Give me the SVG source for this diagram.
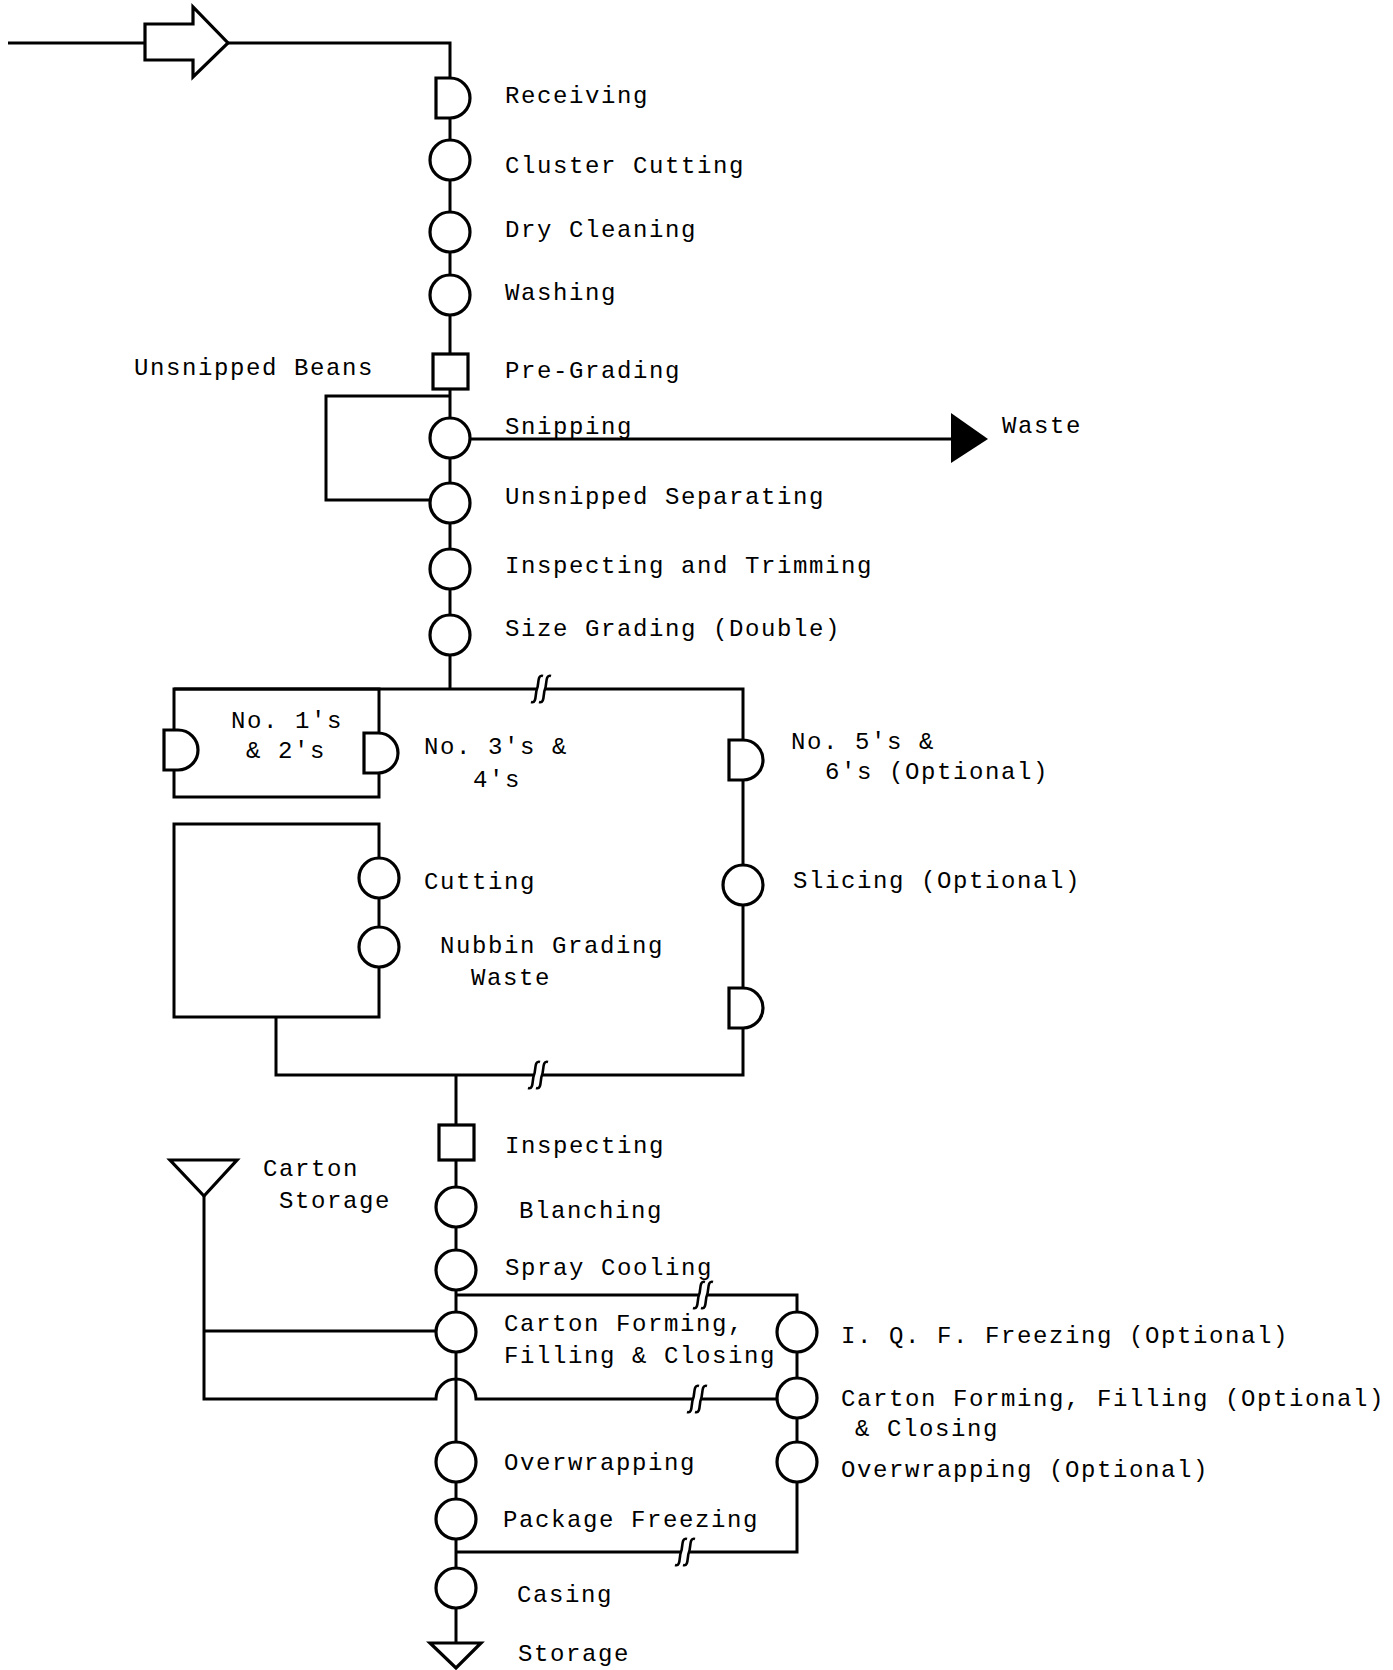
<svg xmlns="http://www.w3.org/2000/svg" width="1393" height="1670" viewBox="0 0 1393 1670">
<style>
.ln{fill:none;stroke:#000;stroke-width:3;stroke-linejoin:miter}
.nd{fill:#fff;stroke:#000;stroke-width:3.2}
.brk{fill:none;stroke:#000;stroke-width:2.6}
.t{font-family:"Liberation Mono","DejaVu Sans Mono",monospace;font-size:24px;letter-spacing:1.6px;fill:#000}
</style>
<defs>
<circle id="op" r="20" class="nd"/>
<path id="dl" d="M0,-20 H-14 V20 H0 A20,20 0 0 0 0,-20 Z" class="nd"/>
<path id="bk" d="M6,-13 C0,-15 2,-4 0,0 C-2,4 0,15 -6,13" class="brk"/>
</defs>
<rect width="1393" height="1670" fill="#fff"/>

<g id="connectors">
<path class="ln" d="M8,43 H145"/>
<path class="ln" d="M228,43 H450 V689"/>
<path class="ln" d="M450,396 H326 V500 H431"/>
<path class="ln" d="M470,439 H952"/>
<polygon points="951,413 988,439 951,463" fill="#000"/>
<path class="ln" d="M174,689 H537 M545,689 H743 V1075 H542 M534,1075 H276 V1017"/>
<use href="#bk" x="537" y="689"/><use href="#bk" x="545" y="689"/>
<use href="#bk" x="534" y="1075"/><use href="#bk" x="542" y="1075"/>
<rect class="ln" x="174" y="689" width="205" height="108"/>
<rect class="ln" x="174" y="824" width="205" height="193"/>
<path class="ln" d="M456,1075 V1643"/>
<path class="ln" d="M456,1295 H699 M707,1295 H797 V1552 H689 M681,1552 H456"/>
<use href="#bk" x="699" y="1295"/><use href="#bk" x="707" y="1295"/>
<use href="#bk" x="681" y="1552"/><use href="#bk" x="689" y="1552"/>
<path class="ln" d="M204,1196 V1399 H436 A20,20 0 0 1 476,1399 H693 M701,1399 H777"/>
<use href="#bk" x="693" y="1399"/><use href="#bk" x="701" y="1399"/>
<path class="ln" d="M204,1331 H436"/>
</g>

<g id="input-arrow"><polygon class="nd" points="145,24 193,24 193,7 228,43 193,77 193,60 145,60"/></g>
<g id="receiving"><use href="#dl" x="450" y="98"/><text class="t" x="505" y="103">Receiving</text></g>
<g id="cluster-cutting"><use href="#op" x="450" y="160"/><text class="t" x="505" y="173">Cluster Cutting</text></g>
<g id="dry-cleaning"><use href="#op" x="450" y="232"/><text class="t" x="505" y="237">Dry Cleaning</text></g>
<g id="washing"><use href="#op" x="450" y="295"/><text class="t" x="505" y="300">Washing</text></g>
<g id="pre-grading"><rect class="nd" x="433" y="354" width="35" height="35"/><text class="t" x="505" y="378">Pre-Grading</text></g>
<g id="unsnipped-beans"><text class="t" x="134" y="375">Unsnipped Beans</text></g>
<g id="snipping"><use href="#op" x="450" y="438"/><text class="t" x="505" y="434">Snipping</text></g>
<g id="waste-1"><text class="t" x="1002" y="433">Waste</text></g>
<g id="unsnipped-separating"><use href="#op" x="450" y="503"/><text class="t" x="505" y="504">Unsnipped Separating</text></g>
<g id="inspecting-trimming"><use href="#op" x="450" y="569"/><text class="t" x="505" y="573">Inspecting and Trimming</text></g>
<g id="size-grading"><use href="#op" x="450" y="635"/><text class="t" x="505" y="636">Size Grading (Double)</text></g>

<g id="no-1-2"><use href="#dl" x="178" y="750"/><text class="t" x="231" y="728">No. 1's</text><text class="t" x="246" y="758">&amp; 2's</text></g>
<g id="no-3-4"><use href="#dl" x="378" y="753"/><text class="t" x="424" y="754">No. 3's &amp;</text><text class="t" x="473" y="787">4's</text></g>
<g id="no-5-6"><use href="#dl" x="743" y="760"/><text class="t" x="791" y="749">No. 5's &amp;</text><text class="t" x="825" y="779">6's (Optional)</text></g>
<g id="slicing"><use href="#op" x="743" y="885"/><text class="t" x="793" y="888">Slicing (Optional)</text></g>
<g id="delay-right"><use href="#dl" x="743" y="1008"/></g>
<g id="cutting"><use href="#op" x="379" y="878"/><text class="t" x="424" y="889">Cutting</text></g>
<g id="nubbin-grading"><use href="#op" x="379" y="947"/><text class="t" x="440" y="953">Nubbin Grading</text><text class="t" x="471" y="985">Waste</text></g>

<g id="inspecting"><rect class="nd" x="439" y="1125" width="35" height="35"/><text class="t" x="505" y="1153">Inspecting</text></g>
<g id="carton-storage"><polygon class="nd" points="170,1160 237,1160 204,1196"/><text class="t" x="263" y="1176">Carton</text><text class="t" x="279" y="1208">Storage</text></g>
<g id="blanching"><use href="#op" x="456" y="1207"/><text class="t" x="519" y="1218">Blanching</text></g>
<g id="spray-cooling"><use href="#op" x="456" y="1270"/><text class="t" x="505" y="1275">Spray Cooling</text></g>
<g id="carton-forming"><use href="#op" x="456" y="1332"/><text class="t" x="504" y="1331">Carton Forming,</text><text class="t" x="504" y="1363">Filling &amp; Closing</text></g>
<g id="iqf-freezing"><use href="#op" x="797" y="1332"/><text class="t" x="841" y="1343">I. Q. F. Freezing (Optional)</text></g>
<g id="carton-forming-opt"><use href="#op" x="797" y="1398"/><text class="t" x="841" y="1406">Carton Forming, Filling (Optional)</text><text class="t" x="855" y="1436">&amp; Closing</text></g>
<g id="overwrapping-opt"><use href="#op" x="797" y="1462"/><text class="t" x="841" y="1477">Overwrapping (Optional)</text></g>
<g id="overwrapping"><use href="#op" x="456" y="1462"/><text class="t" x="504" y="1470">Overwrapping</text></g>
<g id="package-freezing"><use href="#op" x="456" y="1519"/><text class="t" x="503" y="1527">Package Freezing</text></g>
<g id="casing"><use href="#op" x="456" y="1588"/><text class="t" x="517" y="1602">Casing</text></g>
<g id="storage"><polygon class="nd" points="430,1643 481,1643 456,1668"/><text class="t" x="518" y="1661">Storage</text></g>
</svg>
